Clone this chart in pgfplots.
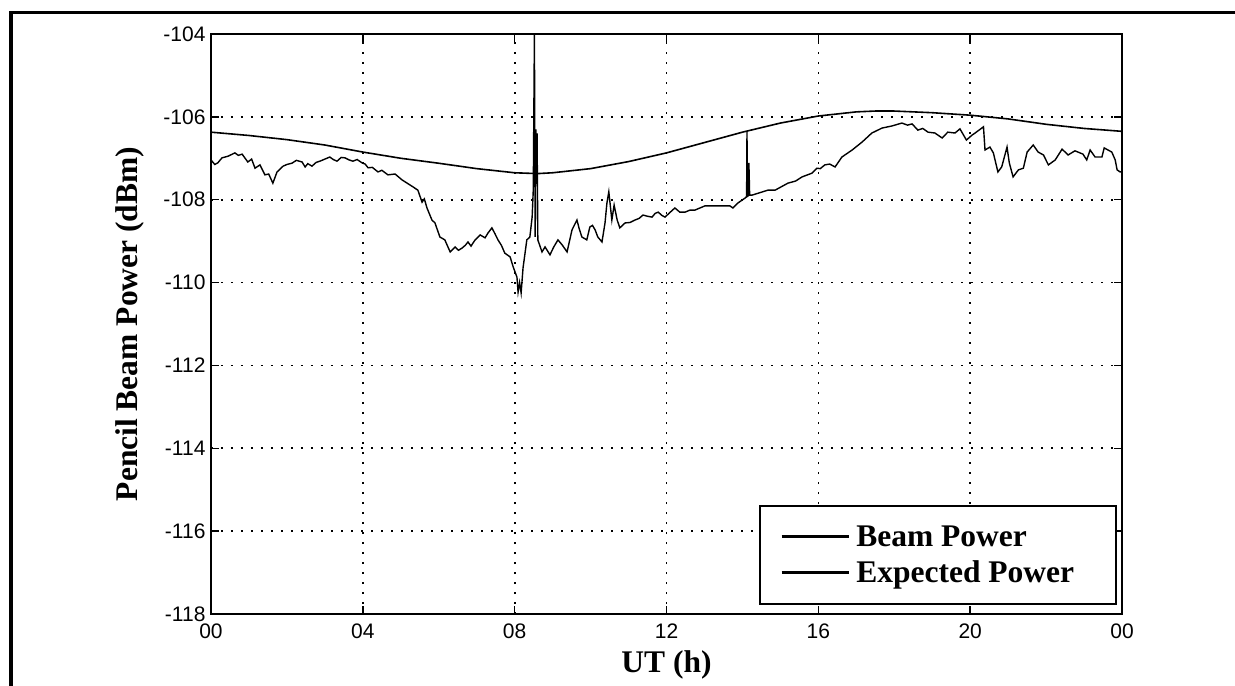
\documentclass[border=0pt]{standalone}
\usepackage{pgfplots}
\pgfplotsset{compat=1.18}
\usepackage{fontspec}
\setmainfont{Liberation Serif}
\newfontfamily\arial{Liberation Sans}

\pgfplotstableread{
t v
0.00 -107.04
0.10 -107.15
0.18 -107.11
0.29 -106.99
0.45 -106.95
0.63 -106.87
0.72 -106.93
0.82 -106.90
0.97 -107.09
1.07 -107.02
1.16 -107.24
1.29 -107.16
1.42 -107.40
1.52 -107.38
1.63 -107.60
1.74 -107.33
1.90 -107.19
2.00 -107.15
2.13 -107.12
2.25 -107.05
2.40 -107.09
2.48 -107.21
2.55 -107.13
2.66 -107.19
2.77 -107.10
2.87 -107.07
3.00 -107.02
3.13 -106.97
3.22 -107.03
3.32 -107.07
3.43 -106.98
3.53 -106.99
3.64 -107.04
3.74 -107.07
3.85 -107.03
3.98 -107.11
4.06 -107.14
4.14 -107.23
4.25 -107.22
4.40 -107.33
4.50 -107.29
4.66 -107.40
4.85 -107.38
5.03 -107.52
5.32 -107.69
5.45 -107.77
5.56 -108.06
5.62 -107.98
5.69 -108.20
5.82 -108.49
5.90 -108.56
6.03 -108.90
6.16 -108.97
6.30 -109.26
6.43 -109.14
6.52 -109.22
6.61 -109.17
6.70 -109.10
6.77 -109.02
6.85 -109.12
6.95 -108.98
7.09 -108.85
7.22 -108.92
7.30 -108.80
7.40 -108.68
7.48 -108.82
7.56 -108.97
7.65 -109.10
7.74 -109.29
7.88 -109.38
7.96 -109.62
8.06 -109.87
8.09 -110.23
8.13 -110.00
8.17 -110.25
8.22 -109.65
8.32 -108.97
8.40 -108.90
8.46 -108.42
8.49 -107.77
8.52 -104.00
8.54 -108.90
8.56 -106.30
8.58 -107.60
8.59 -106.40
8.61 -108.97
8.72 -109.26
8.80 -109.14
8.93 -109.33
9.03 -109.14
9.14 -108.97
9.25 -109.09
9.38 -109.26
9.51 -108.73
9.64 -108.49
9.70 -108.70
9.77 -108.90
9.90 -108.97
9.98 -108.66
10.05 -108.62
10.12 -108.73
10.19 -108.90
10.30 -109.02
10.38 -108.56
10.43 -108.08
10.48 -107.81
10.56 -108.49
10.62 -108.13
10.70 -108.49
10.77 -108.68
10.91 -108.56
11.04 -108.55
11.17 -108.49
11.28 -108.45
11.38 -108.37
11.50 -108.40
11.62 -108.42
11.70 -108.33
11.78 -108.30
11.88 -108.38
11.96 -108.42
12.10 -108.30
12.22 -108.20
12.35 -108.30
12.49 -108.30
12.62 -108.25
12.75 -108.25
13.01 -108.15
13.36 -108.15
13.67 -108.15
13.75 -108.20
13.88 -108.08
14.07 -107.96
14.11 -107.92
14.12 -106.34
14.13 -107.92
14.16 -107.90
14.17 -107.11
14.19 -107.89
14.25 -107.89
14.67 -107.77
14.86 -107.77
15.12 -107.64
15.20 -107.60
15.40 -107.55
15.57 -107.45
15.83 -107.36
15.96 -107.24
16.05 -107.25
16.17 -107.16
16.30 -107.14
16.44 -107.21
16.62 -106.97
16.89 -106.80
17.15 -106.61
17.41 -106.39
17.68 -106.27
17.94 -106.22
18.20 -106.15
18.35 -106.20
18.47 -106.17
18.62 -106.32
18.75 -106.28
18.89 -106.37
19.07 -106.39
19.26 -106.51
19.41 -106.37
19.60 -106.39
19.73 -106.29
19.90 -106.56
20.05 -106.44
20.13 -106.39
20.35 -106.24
20.39 -106.80
20.52 -106.73
20.61 -106.87
20.73 -107.33
20.83 -107.21
20.97 -106.73
21.03 -107.11
21.13 -107.45
21.27 -107.28
21.40 -107.24
21.50 -106.85
21.66 -106.68
21.79 -106.85
21.93 -106.92
22.06 -107.16
22.24 -107.04
22.42 -106.78
22.58 -106.92
22.76 -106.82
22.97 -106.90
23.07 -107.04
23.16 -106.80
23.29 -106.97
23.47 -106.97
23.53 -106.75
23.73 -106.85
23.82 -107.04
23.87 -107.28
23.95 -107.33
24.00 -107.33
}\beam

\pgfplotstableread{
t v
0 -106.37
1 -106.45
2 -106.55
3 -106.68
4 -106.85
5 -107.00
6 -107.12
7 -107.25
8 -107.35
8.6 -107.37
9 -107.35
10 -107.25
11 -107.08
12 -106.87
13 -106.62
14 -106.37
15 -106.15
16 -105.98
17 -105.88
17.5 -105.86
18 -105.86
19 -105.90
20 -105.96
21 -106.05
22 -106.18
23 -106.28
24 -106.35
}\expected

\begin{document}
\begin{tikzpicture}
\begin{axis}[
  scale only axis, width=911pt, height=580pt,
  xmin=0, xmax=24, ymin=-118, ymax=-104,
  xtick={0,4,8,12,16,20,24}, xticklabels={00,04,08,12,16,20,00},
  ytick={-118,-116,-114,-112,-110,-108,-106,-104},
  yticklabels={-118,-116,-114,-112,-110,-108,-106,-104},
  tick align=inside, major tick length=8pt,
  tick style={black, line width=1.5pt},
  axis line style={line width=1.8pt},
  grid=major,
  major grid style={black, line width=1.7pt, dash pattern=on 1.7pt off 8.3pt},
  ticklabel style={font=\arial\fontsize{21}{21}\selectfont},
  yticklabel style={xshift=-2pt},
  xticklabel style={yshift=-6pt},
  xlabel={UT (h)},
  ylabel={Pencil Beam Power (dBm)},
  label style={font=\bfseries\fontsize{31.5}{36}\selectfont},
  xlabel style={at={(rel axis cs:0.5,-0.0879)}, anchor=center},
  ylabel style={at={(rel axis cs:-0.0889,0.5)}, anchor=center},
  legend style={at={(rel axis cs:0.9945,0.0155)}, anchor=south east,
    draw=black, line width=1.8pt,
    font=\bfseries\fontsize{31.5}{37}\selectfont,
    inner xsep=20pt, inner ysep=18pt, row sep=9pt},
  legend cell align=left,
  legend image code/.code={\draw[line width=3.5pt] (0pt,0pt) -- (67pt,0pt);},
]
\addplot[black, line width=1.4pt] table[x=t, y=v] {\beam};
\addlegendentry{\hspace*{4pt}Beam Power}
\addplot[black, line width=1.6pt] table[x=t, y=v] {\expected};
\addlegendentry{\hspace*{4pt}Expected Power\hspace*{20pt}}
\coordinate (BBL) at (rel axis cs:-0.2316,-0.1241);
\coordinate (BTR) at (rel axis cs:1.1240,1.0586);
\coordinate (FL) at (rel axis cs:-0.2195,-0.2);
\coordinate (FTL) at (rel axis cs:-0.2195,1.0371);
\coordinate (FTR) at (rel axis cs:1.2,1.0371);
\end{axis}
\draw[line width=3.7pt, line cap=rect] (FL) -- (FTL) -- (FTR);
\pgfresetboundingbox
\path[use as bounding box] (BBL) rectangle (BTR);
\end{tikzpicture}
\end{document}
